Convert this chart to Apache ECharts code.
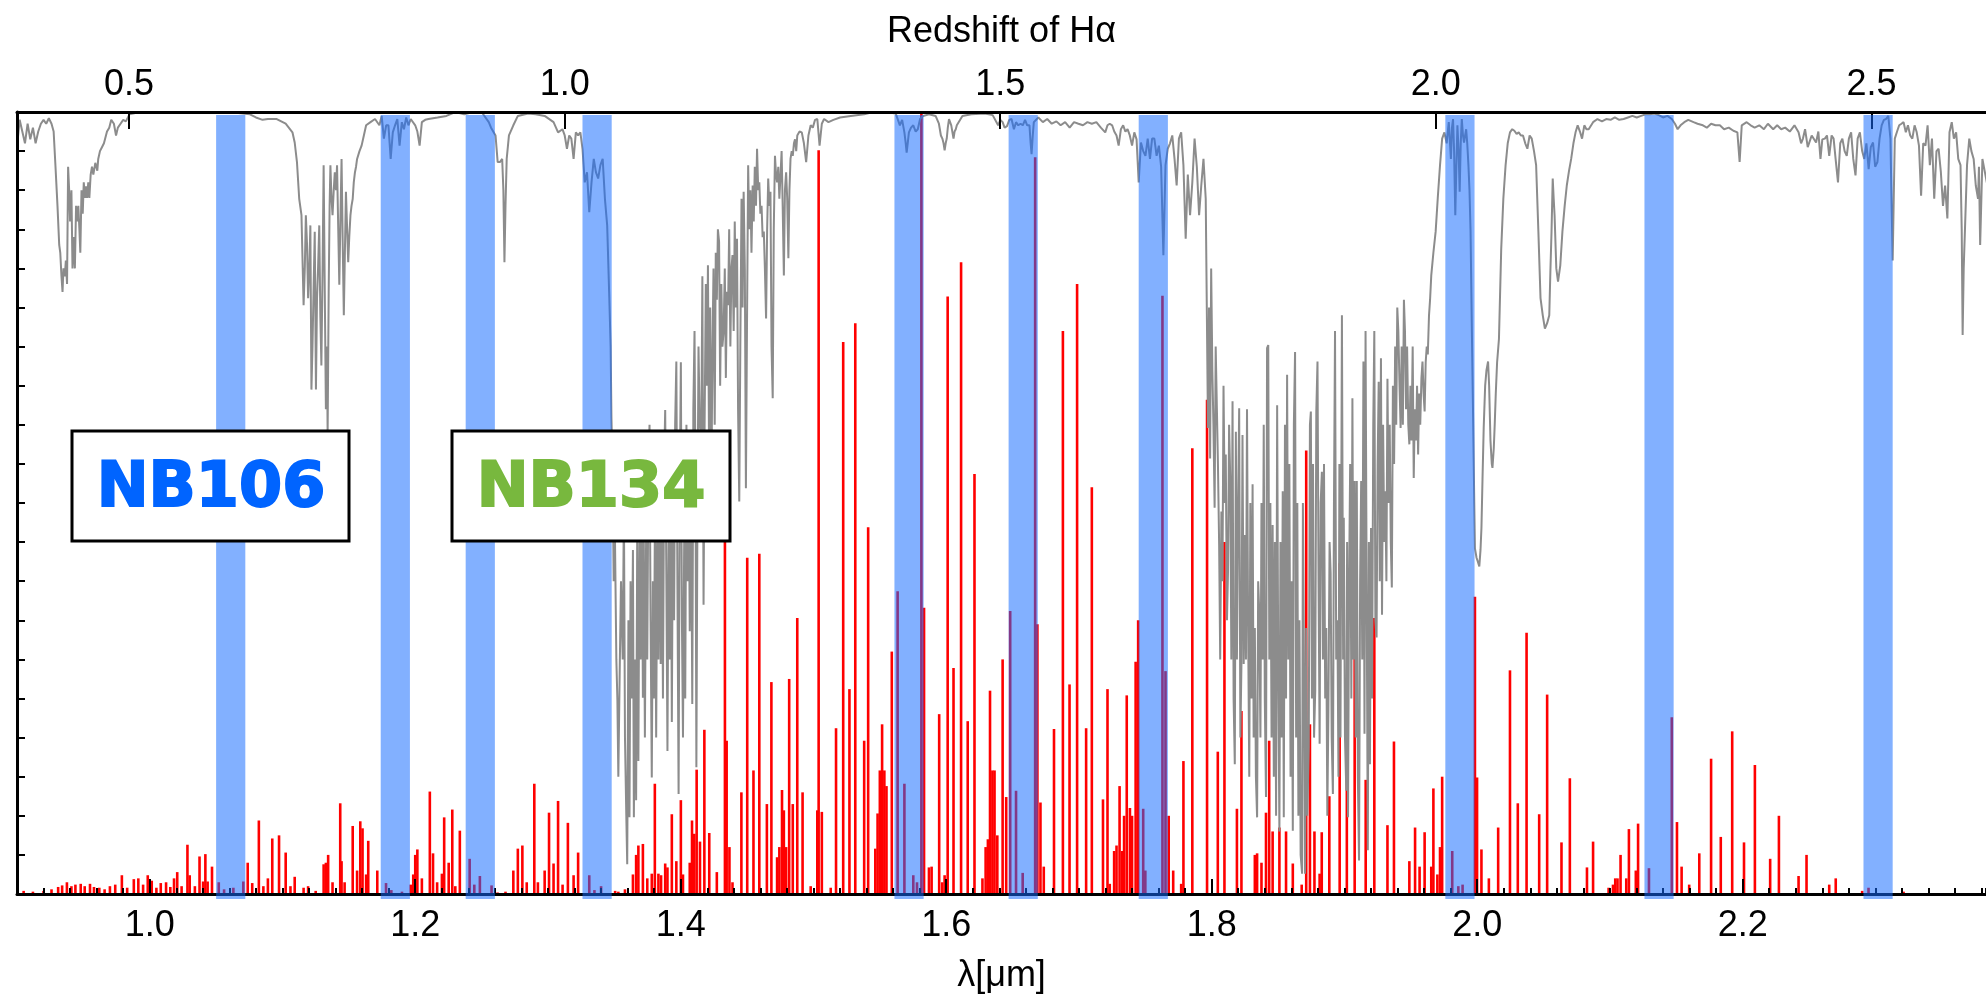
<!DOCTYPE html>
<html>
<head>
<meta charset="utf-8">
<script src="https://cdn.jsdelivr.net/npm/echarts@6/dist/echarts.min.js"></script>
<style>
html,body{margin:0;padding:0;background:#fff;}
#chart{width:1986px;height:999px;}
</style>
</head>
<body>
<div id="chart"></div>
<script>
// ---------------- data ----------------
const waveRange = [0.9, 2.3833];           // visible wavelength range, micron
const H_ALPHA = 0.65628;                   // rest wavelength of H-alpha, micron
const waveTickLabels = [1.0, 1.2, 1.4, 1.6, 1.8, 2.0, 2.2];
const redshiftTickLabels = [0.5, 1.0, 1.5, 2.0, 2.5];
const filterCenters = [1.061, 1.185, 1.249, 1.337, 1.572, 1.658, 1.756, 1.987, 2.137, 2.302];
const filterWidth = 0.022;
const filterLabels = ['NB106', 'NB134'];

// atmospheric transmission (grey curve): [wavelength, transmission]
const atmTransmission = [
[0.900,0.955],[0.902,0.990],[0.904,0.975],[0.906,0.960],[0.908,0.985],[0.910,0.965],[0.912,0.980],[0.914,0.960],[0.916,0.975],[0.918,0.985],[0.920,0.990],[0.922,0.985],[0.924,0.992],[0.926,0.985],[0.9276,0.975],
[0.929,0.93],[0.9305,0.88],[0.9318,0.83],[0.9326,0.82],[0.9335,0.79],[0.9343,0.77],[0.9350,0.80],[0.9360,0.79],[0.9368,0.81],[0.9377,0.78],[0.9385,0.93],[0.9393,0.90],[0.9400,0.86],[0.9410,0.90],[0.9418,0.80],[0.9427,0.84],[0.9436,0.80],[0.9445,0.88],[0.9453,0.86],[0.9462,0.88],[0.9470,0.85],[0.9477,0.82],[0.9486,0.90],[0.9495,0.87],[0.9503,0.91],[0.9512,0.89],[0.9520,0.905],[0.9528,0.89],[0.9537,0.91],[0.9545,0.89],[0.9555,0.92],[0.9565,0.93],[0.9575,0.92],[0.9590,0.935],[0.9605,0.925],[0.9612,0.94],[0.9625,0.95],[0.9640,0.955],[0.9655,0.96],[0.9678,0.975],[0.9695,0.98],[0.9710,0.99],[0.9730,0.985],[0.9746,0.97],[0.9760,0.98],[0.9780,0.985],[0.9800,0.99],[0.9820,0.988],[0.9847,0.997],
[0.990,0.999],[1.000,1.0],[1.010,1.0],[1.020,1.0],[1.030,1.0],[1.040,1.0],[1.050,1.0],[1.060,1.0],[1.070,0.998],[1.0755,0.997],[1.080,0.993],[1.085,0.990],[1.0890,0.991],[1.0957,0.991],[1.1024,0.985],[1.1075,0.974],
[1.1092,0.961],[1.1109,0.936],[1.1126,0.889],[1.1143,0.868],[1.1159,0.753],[1.1168,0.80],[1.1176,0.868],[1.1185,0.83],[1.1193,0.762],[1.1202,0.80],[1.1210,0.855],[1.1218,0.645],[1.1226,0.70],[1.1235,0.78],[1.1243,0.847],[1.1252,0.645],[1.1260,0.762],[1.1268,0.80],[1.1277,0.855],[1.1285,0.74],[1.1293,0.676],[1.1302,0.80],[1.1310,0.932],[1.1318,0.78],[1.1327,0.62],[1.1335,0.70],[1.1340,0.59],[1.1348,0.77],[1.1355,0.88],[1.1361,0.932],[1.1369,0.89],[1.1377,0.868],[1.1386,0.90],[1.1394,0.923],[1.1403,0.90],[1.1411,0.932],[1.1420,0.85],[1.1428,0.779],[1.1436,0.86],[1.1445,0.94],[1.1453,0.84],[1.1462,0.74],[1.1470,0.82],[1.1478,0.898],[1.1487,0.85],[1.1495,0.808],[1.1503,0.84],[1.1512,0.868],[1.1520,0.88],[1.1529,0.889],[1.1537,0.91],[1.1546,0.923],[1.1554,0.93],[1.1562,0.94],[1.1580,0.95],[1.1596,0.957],[1.1613,0.97],[1.1630,0.983],[1.1663,0.987],[1.1697,0.991],[1.1730,0.983],[1.1747,0.995],
[1.1764,0.966],[1.1781,0.983],[1.1798,0.983],[1.1815,0.94],[1.1831,0.974],[1.1848,0.983],[1.1865,0.991],[1.1882,0.957],[1.1899,0.987],[1.1915,0.978],[1.1932,0.993],[1.1949,0.983],[1.1966,0.991],[1.2000,0.983],[1.2016,0.975],[1.2033,0.957],[1.2050,0.987],[1.2075,0.99],[1.2100,0.991],[1.2168,0.993],[1.2235,0.995],[1.2302,1.0],[1.2369,0.997],[1.2437,1.0],[1.2500,1.0],[1.2554,0.987],[1.2571,0.98],[1.2605,0.97],[1.2621,0.936],[1.2638,0.936],[1.2655,0.94],[1.2664,0.90],[1.2672,0.808],[1.2680,0.88],[1.2689,0.94],[1.2706,0.97],[1.2739,0.983],[1.2773,0.995],[1.2850,0.998],[1.2907,0.997],[1.2975,0.995],[1.3042,0.987],[1.3076,0.974],[1.3109,0.978],[1.3126,0.97],[1.3143,0.953],[1.3160,0.97],[1.3176,0.966],[1.3193,0.94],[1.3210,0.974],[1.3227,0.97],[1.3244,0.974],[1.3260,0.953],[1.3277,0.91],[1.3294,0.923],[1.3311,0.872],[1.3328,0.91],[1.3345,0.94],[1.3361,0.923],[1.3378,0.915],[1.3395,0.932],[1.3412,0.94],[1.3429,0.889],[1.3446,0.855],[1.3462,0.762],
[1.3472,0.70],[1.3478,0.61],[1.3486,0.55],[1.3495,0.40],[1.3505,0.45],[1.3515,0.30],[1.3523,0.247],[1.3530,0.15],[1.3540,0.281],[1.3550,0.40],[1.3563,0.30],[1.3572,0.50],[1.3580,0.20],[1.3590,0.10],[1.3597,0.038],[1.3606,0.35],[1.3614,0.098],[1.3622,0.40],[1.3630,0.25],[1.3640,0.44],[1.3647,0.098],[1.3655,0.30],[1.3664,0.12],[1.3672,0.45],[1.3681,0.17],[1.3690,0.50],[1.3698,0.30],[1.3706,0.55],[1.3715,0.251],[1.3722,0.45],[1.3730,0.20],[1.3740,0.48],[1.3748,0.30],[1.3757,0.55],[1.3765,0.60],[1.3773,0.35],[1.3782,0.149],[1.3790,0.40],[1.3798,0.25],[1.3806,0.50],[1.3815,0.20],[1.3823,0.45],[1.3832,0.30],[1.3840,0.55],[1.3849,0.294],[1.3858,0.50],[1.3866,0.25],[1.3875,0.55],[1.3883,0.619],[1.3892,0.40],[1.3900,0.183],[1.3908,0.45],[1.3917,0.30],[1.3925,0.55],[1.3933,0.22],[1.3941,0.50],[1.3950,0.35],[1.3958,0.60],[1.3967,0.681],[1.3975,0.40],[1.3984,0.128],[1.3992,0.50],[1.4001,0.68],[1.4009,0.35],[1.4017,0.20],[1.4026,0.45],[1.4034,0.25],[1.4043,0.60],[1.4051,0.40],[1.4060,0.55],[1.4068,0.336],[1.4077,0.55],[1.4087,0.243],[1.4095,0.62],[1.4104,0.72],[1.4112,0.50],[1.4118,0.162],[1.4125,0.45],[1.4134,0.70],[1.4143,0.60],[1.4155,0.583],[1.4163,0.79],[1.4172,0.37],[1.4180,0.60],[1.4189,0.78],[1.4197,0.65],[1.4205,0.804],[1.4214,0.55],[1.4222,0.75],[1.4230,0.50],[1.4239,0.698],[1.4247,0.80],[1.4256,0.60],[1.4264,0.82],[1.4272,0.76],[1.4280,0.85],[1.4289,0.834],[1.4297,0.65],[1.4306,0.78],[1.4314,0.70],[1.4323,0.719],[1.4332,0.80],[1.4340,0.66],[1.4348,0.77],[1.4357,0.753],[1.4365,0.85],[1.4374,0.70],[1.4382,0.80],[1.4390,0.817],[1.4399,0.72],[1.4407,0.86],[1.4416,0.75],[1.4424,0.838],[1.4432,0.62],[1.4441,0.502],[1.4449,0.70],[1.4458,0.889],[1.4466,0.75],[1.4474,0.898],[1.4483,0.80],[1.4491,0.519],[1.4499,0.72],[1.4508,0.932],[1.4516,0.85],[1.4525,0.90],[1.4533,0.82],[1.4542,0.906],[1.4550,0.86],[1.4558,0.93],[1.4567,0.88],[1.4575,0.953],[1.4584,0.90],[1.4592,0.91],[1.4600,0.87],[1.4609,0.88],[1.4617,0.84],[1.4626,0.847],[1.4634,0.80],[1.4643,0.736],[1.4651,0.85],[1.4659,0.915],[1.4668,0.88],[1.4676,0.898],[1.4684,0.70],[1.4693,0.634],[1.4701,0.85],[1.4710,0.944],[1.4718,0.92],[1.4726,0.91],[1.4735,0.93],[1.4743,0.889],[1.4752,0.92],[1.4760,0.95],[1.4768,0.88],[1.4777,0.791],[1.4785,0.90],[1.4794,0.923],[1.4802,0.89],[1.4811,0.813],[1.4819,0.90],[1.4827,0.94],[1.4836,0.95],[1.4844,0.944],[1.4853,0.96],[1.4861,0.965],[1.4870,0.95],[1.4878,0.97],[1.4895,0.975],[1.4912,0.974],[1.4928,0.96],[1.4945,0.936],[1.4962,0.97],[1.4979,0.983],[1.4995,0.98],[1.5012,0.99],[1.5029,0.991],[1.5046,0.957],[1.5063,0.985],[1.5080,0.991],[1.5113,0.987],[1.5150,0.99],[1.5200,0.993],[1.5281,0.995],[1.5382,0.997],[1.545,1.0],[1.555,1.0],[1.562,0.998],
[1.5651,0.983],[1.5668,0.99],[1.5685,0.974],[1.5695,0.96],[1.5702,0.948],[1.5710,0.96],[1.5719,0.974],[1.5735,0.98],[1.5752,0.983],[1.5770,0.975],[1.5786,0.978],[1.5803,0.991],[1.5826,0.995],[1.5870,0.997],[1.5920,0.995],[1.5945,0.985],[1.5960,0.97],[1.5971,0.966],[1.5980,0.96],[1.5988,0.951],[1.5996,0.96],[1.6004,0.966],[1.6012,0.98],[1.6021,0.991],[1.6038,0.983],[1.6046,0.975],[1.6055,0.966],[1.6063,0.975],[1.6072,0.978],[1.6080,0.983],[1.6089,0.983],[1.6105,0.99],[1.6122,0.995],[1.6190,0.997],[1.6290,0.998],[1.6350,0.996],[1.6391,0.983],[1.6408,0.99],[1.6425,0.987],[1.6440,0.98],[1.6458,0.982],[1.6475,0.99],[1.6492,0.991],[1.6510,0.978],[1.6526,0.987],[1.6543,0.983],[1.6560,0.985],[1.6577,0.983],[1.6594,0.99],[1.6610,0.983],[1.6627,0.983],[1.6636,0.96],[1.6643,0.946],[1.6652,0.97],[1.6660,0.987],[1.6694,0.993],[1.6728,0.987],[1.6761,0.991],[1.6795,0.985],[1.6830,0.988],[1.6862,0.983],[1.6896,0.987],[1.6930,0.98],[1.6963,0.987],[1.6996,0.985],[1.7030,0.983],[1.7064,0.987],[1.7097,0.985],[1.7131,0.987],[1.7165,0.98],[1.7198,0.974],[1.7215,0.983],[1.7232,0.985],[1.7250,0.983],[1.7266,0.975],[1.7283,0.97],[1.7299,0.957],[1.7316,0.978],[1.7333,0.983],[1.7350,0.975],[1.7366,0.978],[1.7383,0.97],[1.7400,0.957],[1.7417,0.974],[1.7434,0.965],[1.7450,0.91],[1.7467,0.961],[1.7484,0.95],[1.7501,0.944],[1.7518,0.966],[1.7535,0.94],[1.7551,0.966],[1.7568,0.966],[1.7585,0.944],[1.7602,0.957],[1.7619,0.93],[1.7636,0.817],[1.7652,0.932],[1.7669,0.953],[1.7686,0.96],[1.7703,0.97],[1.7720,0.94],[1.7736,0.906],[1.7753,0.966],[1.7770,0.974],[1.7787,0.932],[1.7804,0.838],
[1.7820,0.92],[1.7837,0.868],[1.7854,0.91],[1.7871,0.966],[1.7888,0.93],[1.7905,0.868],[1.7921,0.905],[1.7938,0.94],[1.7955,0.889],[1.7972,0.596],[1.7980,0.75],[1.7988,0.557],[1.7996,0.80],[1.8005,0.668],[1.8013,0.60],[1.8022,0.494],[1.8030,0.70],[1.8039,0.621],[1.8047,0.55],[1.8056,0.447],[1.8064,0.30],[1.8073,0.489],[1.8081,0.40],[1.8089,0.65],[1.8098,0.50],[1.8106,0.562],[1.8115,0.35],[1.8123,0.413],[1.8131,0.60],[1.8140,0.528],[1.8148,0.30],[1.8157,0.63],[1.8165,0.25],[1.8174,0.166],[1.8182,0.591],[1.8190,0.30],[1.8199,0.50],[1.8207,0.621],[1.8216,0.20],[1.8224,0.294],[1.8232,0.587],[1.8241,0.294],[1.8249,0.459],[1.8258,0.30],[1.8266,0.62],[1.8274,0.35],[1.8283,0.15],[1.8291,0.50],[1.8300,0.25],[1.8308,0.524],[1.8316,0.20],[1.8325,0.34],[1.8333,0.15],[1.8342,0.098],[1.8350,0.40],[1.8358,0.362],[1.8367,0.20],[1.8375,0.50],[1.8384,0.30],[1.8392,0.60],[1.8400,0.25],[1.8409,0.124],[1.8417,0.698],[1.8426,0.702],[1.8434,0.30],[1.8442,0.50],[1.8451,0.20],[1.8459,0.472],[1.8468,0.15],[1.8476,0.45],[1.8485,0.10],[1.8493,0.625],[1.8501,0.30],[1.8510,0.08],[1.8518,0.45],[1.8527,0.20],[1.8535,0.515],[1.8543,0.098],[1.8552,0.60],[1.8560,0.25],[1.8568,0.664],[1.8577,0.30],[1.8585,0.55],[1.8594,0.15],[1.8602,0.40],[1.8611,0.081],[1.8619,0.60],[1.8628,0.693],[1.8636,0.20],[1.8645,0.50],[1.8653,0.10],[1.8661,0.35],[1.8670,0.05],[1.8681,0.026],[1.8687,0.50],[1.8695,0.30],[1.8703,0.026],[1.8712,0.34],[1.8720,0.10],[1.8731,0.188],[1.8740,0.60],[1.8747,0.617],[1.8755,0.25],[1.8763,0.55],[1.8771,0.20],[1.8780,0.26],[1.8788,0.617],[1.8797,0.681],[1.8805,0.40],[1.8813,0.192],[1.8821,0.50],[1.8830,0.54],[1.8838,0.30],[1.8846,0.55],[1.8855,0.25],[1.8863,0.34],[1.8871,0.10],[1.8879,0.234],[1.8888,0.45],[1.8896,0.41],[1.8904,0.20],[1.8913,0.128],[1.8921,0.50],[1.8929,0.72],[1.8938,0.30],[1.8947,0.35],[1.8955,0.15],[1.8962,0.55],[1.8970,0.20],[1.8981,0.74],[1.8990,0.30],[1.8995,0.481],[1.9004,0.20],[1.9014,0.132],[1.9020,0.45],[1.9027,0.098],[1.9035,0.40],[1.9043,0.55],[1.9052,0.25],[1.9060,0.634],[1.9068,0.30],[1.9077,0.528],[1.9085,0.20],[1.9093,0.528],[1.9101,0.15],[1.9110,0.043],[1.9118,0.40],[1.9126,0.528],[1.9134,0.30],[1.9143,0.681],[1.9151,0.205],[1.9159,0.72],[1.9167,0.40],[1.9176,0.056],[1.9184,0.45],[1.9192,0.166],[1.9200,0.468],[1.9208,0.25],[1.9217,0.60],[1.9225,0.72],[1.9233,0.35],[1.9242,0.328],[1.9250,0.55],[1.9258,0.655],[1.9266,0.40],[1.9275,0.685],[1.9283,0.357],[1.9291,0.60],[1.9300,0.45],[1.9308,0.515],[1.9316,0.40],[1.9324,0.659],[1.9332,0.50],[1.9341,0.60],[1.9349,0.45],[1.9357,0.392],[1.9365,0.65],[1.9374,0.55],[1.9382,0.70],[1.9390,0.60],[1.9398,0.75],[1.9406,0.72],[1.9415,0.65],[1.9423,0.596],[1.9431,0.70],[1.9440,0.60],[1.9448,0.76],[1.9456,0.72],[1.9464,0.62],[1.9472,0.70],[1.9481,0.60],[1.9489,0.575],[1.9497,0.65],[1.9505,0.58],[1.9514,0.70],[1.9522,0.532],[1.9530,0.62],[1.9539,0.58],[1.9547,0.65],[1.9555,0.562],[1.9563,0.64],[1.9571,0.60],[1.9580,0.66],[1.9588,0.681],[1.9596,0.64],[1.9604,0.617],[1.9612,0.68],[1.9620,0.70],[1.9628,0.69],[1.9637,0.74],[1.9645,0.76],[1.9654,0.791],[1.9670,0.82],[1.9687,0.847],[1.9703,0.89],[1.9720,0.932],[1.9736,0.966],[1.9753,0.974],[1.9770,0.96],[1.9786,0.987],[1.9802,0.94],[1.9810,0.98],[1.9818,0.991],[1.9826,0.95],[1.9835,0.868],[1.9843,0.93],[1.9851,0.983],[1.9860,0.95],[1.9868,0.898],[1.9876,0.96],[1.9884,0.991],[1.9893,0.97],[1.9901,0.961],[1.9909,0.97],[1.9917,0.978],[1.9925,0.96],[1.9934,0.932],[1.9942,0.90],
[1.9950,0.847],[1.9960,0.719],[1.9970,0.60],[1.9978,0.50],[1.9983,0.442],[1.9995,0.43],[2.0005,0.425],[2.0016,0.419],[2.0025,0.44],[2.0032,0.468],[2.0040,0.53],[2.0049,0.596],[2.0060,0.65],[2.0070,0.67],[2.0082,0.681],[2.0090,0.65],[2.0100,0.58],[2.0110,0.55],[2.0115,0.545],[2.0125,0.57],[2.0132,0.60],[2.0140,0.64],[2.0150,0.68],[2.0164,0.71],[2.0181,0.825],[2.0197,0.889],[2.0214,0.932],[2.0230,0.96],[2.0247,0.974],[2.0264,0.978],[2.0280,0.976],[2.0297,0.972],[2.0313,0.974],[2.0329,0.97],[2.0345,0.97],[2.0362,0.96],[2.0378,0.953],[2.0395,0.97],[2.0411,0.966],[2.0428,0.95],[2.0444,0.932],[2.0461,0.847],[2.0477,0.762],[2.0494,0.74],[2.0510,0.723],[2.0527,0.73],[2.0543,0.74],[2.0552,0.80],[2.0560,0.847],[2.0569,0.915],[2.0576,0.89],[2.0583,0.868],[2.0596,0.80],[2.0609,0.783],[2.0626,0.804],[2.0642,0.847],[2.0659,0.88],[2.0675,0.906],[2.0692,0.925],[2.0708,0.94],[2.0725,0.96],[2.0741,0.974],[2.0757,0.983],[2.0774,0.975],[2.0790,0.966],[2.0807,0.983],[2.0823,0.978],[2.0840,0.978],[2.0873,0.987],[2.0906,0.991],[2.0940,0.988],[2.0972,0.991],[2.1005,0.99],[2.1037,0.993],[2.1070,0.99],[2.1103,0.991],[2.1136,0.993],[2.1169,0.995],[2.1202,0.993],[2.1235,0.995],[2.1268,0.997],[2.1301,0.997],[2.1335,0.998],[2.1368,0.996],[2.1400,0.993],[2.1433,0.995],[2.1466,0.991],[2.1490,0.985],[2.1510,0.978],[2.1532,0.983],[2.1560,0.987],[2.1590,0.99],[2.1630,0.987],[2.1660,0.985],[2.1700,0.983],[2.1730,0.98],[2.1762,0.985],[2.1795,0.983],[2.1828,0.983],[2.1860,0.978],[2.1895,0.98],[2.1930,0.976],[2.1960,0.974],[2.1977,0.936],[2.1993,0.983],[2.2030,0.987],[2.2060,0.983],[2.2090,0.98],[2.2125,0.983],[2.2160,0.978],[2.2190,0.985],[2.2230,0.978],[2.2260,0.983],[2.2290,0.978],[2.2320,0.98],[2.2355,0.975],[2.2390,0.983],[2.2421,0.974],[2.2440,0.96],[2.2454,0.966],[2.2470,0.978],[2.2490,0.955],[2.2520,0.97],[2.2553,0.961],[2.2570,0.975],[2.2586,0.94],[2.2600,0.965],[2.2619,0.966],[2.2635,0.97],[2.2652,0.944],[2.2670,0.97],[2.2685,0.966],[2.2700,0.94],[2.2718,0.91],[2.2735,0.96],[2.2751,0.966],[2.2768,0.95],[2.2784,0.944],[2.2800,0.966],[2.2817,0.974],[2.2833,0.94],[2.2850,0.919],[2.2866,0.966],[2.2883,0.974],[2.2900,0.95],[2.2916,0.94],[2.2932,0.96],[2.2949,0.927],[2.2965,0.955],[2.2982,0.961],[2.2998,0.93],[2.3015,0.936],[2.3031,0.966],[2.3047,0.983],[2.3064,0.99],[2.3080,0.991],[2.3097,0.995],[2.3113,0.966],[2.3122,0.88],[2.3130,0.81],[2.3138,0.89],[2.3146,0.966],[2.3163,0.975],[2.3179,0.983],[2.3196,0.985],[2.3212,0.987],[2.3229,0.974],[2.3245,0.983],[2.3262,0.97],[2.3278,0.966],[2.3295,0.983],[2.3311,0.974],[2.3328,0.957],[2.3344,0.893],[2.3360,0.96],[2.3377,0.957],[2.3393,0.983],[2.3410,0.932],[2.3426,0.966],[2.3443,0.889],[2.3460,0.95],[2.3476,0.953],[2.3493,0.923],[2.3509,0.88],[2.3525,0.906],[2.3542,0.864],[2.3558,0.974],[2.3575,0.987],[2.3591,0.966],[2.3608,0.974],[2.3624,0.94],[2.3641,0.932],[2.3650,0.85],[2.3657,0.715],[2.3665,0.80],[2.3674,0.847],[2.3690,0.932],[2.3707,0.966],[2.3723,0.95],[2.3740,0.94],[2.3756,0.906],[2.3773,0.889],[2.3780,0.93],[2.3789,0.83],[2.3806,0.94],[2.3850,0.90],[2.3900,0.92]
];

// OH sky emission lines (red): [wavelength, relative intensity]
const ohLines = [
[0.905,0.004],[0.912,0.003],[0.920,0.004],[0.926,0.006],[0.931,0.009],[0.934,0.011],[0.9376,0.015],[0.941,0.010],[0.944,0.012],[0.948,0.013],[0.951,0.010],[0.955,0.013],[0.958,0.009],[0.962,0.008],[0.966,0.006],[0.970,0.010],[0.974,0.012],[0.979,0.024],[0.983,0.008],[0.988,0.019],[0.9914,0.020],[0.995,0.012],[0.9985,0.024],[1.0015,0.017],[1.005,0.008],[1.0083,0.014],[1.0123,0.015],[1.0155,0.009],[1.0183,0.020],[1.0207,0.028],[1.024,0.010],[1.0284,0.063],[1.0301,0.024],[1.034,0.010],[1.0375,0.048],[1.0402,0.016],[1.0419,0.051],[1.0436,0.016],[1.0469,0.035],
[1.052,0.015],[1.056,0.006],[1.063,0.008],[1.0705,0.016],
[1.0738,0.040],[1.0772,0.014],[1.0822,0.094],[1.0856,0.010],[1.0890,0.020],[1.0923,0.071],[1.0974,0.075],[1.1024,0.053],[1.1060,0.010],[1.1092,0.022],[1.1159,0.008],[1.1193,0.010],[1.1250,0.004],[1.1310,0.038],[1.1327,0.040],[1.1344,0.050],[1.1377,0.015],[1.1435,0.116],[1.1445,0.042],[1.1468,0.015],[1.1529,0.087],[1.1562,0.030],[1.1586,0.093],[1.1603,0.084],[1.1630,0.025],[1.1646,0.068],[1.1714,0.030],
[1.1780,0.014],[1.1820,0.005],[1.1900,0.003],
[1.1966,0.012],[1.1985,0.025],[1.2000,0.050],[1.2016,0.057],[1.2050,0.020],[1.2110,0.131],[1.2134,0.052],[1.2165,0.015],[1.2201,0.026],[1.2218,0.098],[1.2252,0.040],[1.2279,0.108],[1.2302,0.010],[1.2336,0.081],
[1.2410,0.045],[1.2445,0.012],[1.2487,0.023],[1.2575,0.011],
[1.2620,0.002],[1.2680,0.003],[1.2739,0.030],[1.2773,0.058],[1.2807,0.062],[1.2840,0.015],[1.2897,0.141],[1.2924,0.015],[1.2975,0.030],[1.3008,0.104],[1.3042,0.039],[1.3076,0.119],[1.3110,0.012],[1.3150,0.091],[1.3193,0.024],[1.3227,0.053],
[1.3311,0.024],[1.3350,0.005],[1.3400,0.010],
[1.3506,0.004],[1.3530,0.003],[1.3580,0.006],[1.3640,0.025],[1.3664,0.050],[1.3681,0.062],[1.3715,0.064],[1.3748,0.020],[1.3782,0.026],[1.3805,0.141],[1.3832,0.026],[1.3852,0.024],[1.3883,0.039],[1.3900,0.034],[1.3933,0.102],[1.3967,0.042],[1.4001,0.120],[1.4017,0.025],[1.4068,0.040],[1.4085,0.094],[1.4102,0.077],[1.4120,0.159],[1.4145,0.067],[1.4178,0.210],[1.4215,0.078],[1.4272,0.028],[1.4333,0.455],[1.4346,0.196],[1.4367,0.060],[1.4390,0.015],[1.4457,0.130],[1.4501,0.430],[1.4548,0.158],[1.4592,0.435],[1.4649,0.115],[1.4683,0.271],[1.4726,0.047],[1.4743,0.060],[1.4763,0.133],[1.4777,0.107],[1.4794,0.060],[1.4817,0.275],[1.4844,0.115],[1.4878,0.353],[1.4918,0.130],[1.4979,0.010],[1.5029,0.107],[1.5039,0.951],[1.5063,0.105],[1.5130,0.008],[1.5170,0.212],[1.5224,0.706],[1.5271,0.262],[1.5315,0.730],[1.5382,0.196],[1.5412,0.469],[1.5466,0.058],[1.5483,0.103],[1.5500,0.158],[1.5517,0.217],[1.5534,0.158],[1.5550,0.138],[1.5590,0.310],[1.5634,0.387],[1.5685,0.141],[1.5752,0.024],[1.5780,0.015],[1.5813,1.05],[1.5833,0.366],[1.5870,0.034],[1.5890,0.035],[1.5947,0.230],[1.5970,0.015],[1.5988,0.024],[1.6011,0.764],[1.6055,0.289],[1.6112,0.808],[1.6162,0.221],[1.6213,0.537],[1.6273,0.020],[1.6297,0.060],[1.6314,0.070],[1.6330,0.260],[1.6348,0.158],[1.6364,0.158],[1.6385,0.075],[1.6425,0.300],[1.6452,0.124],[1.6482,0.362],[1.6526,0.132],[1.6576,0.027],[1.6670,0.942],[1.6687,0.345],[1.6710,0.117],[1.6735,0.035],[1.6812,0.211],[1.6879,0.720],[1.6929,0.268],[1.6986,0.780],[1.7054,0.212],[1.7097,0.520],[1.7181,0.121],[1.7215,0.262],[1.7232,0.013],[1.7265,0.055],[1.7283,0.062],[1.7306,0.138],[1.7326,0.055],[1.7340,0.100],[1.7360,0.254],[1.7384,0.110],[1.7400,0.100],[1.7427,0.297],[1.7446,0.350],[1.7484,0.109],[1.7500,0.030],[1.7629,0.765],[1.7652,0.285],[1.7676,0.100],[1.7710,0.030],[1.7770,0.013],[1.7787,0.170],[1.7854,0.570],[1.7965,0.632],[1.8046,0.182],[1.8096,0.450],[1.8190,0.109],[1.8224,0.234],[1.8325,0.050],[1.8342,0.052],[1.8375,0.040],[1.8409,0.104],[1.8433,0.196],[1.8459,0.080],[1.8510,0.085],[1.8560,0.080],[1.8611,0.039],[1.8678,0.012],[1.8712,0.567],[1.8740,0.217],[1.8774,0.080],[1.8813,0.026],[1.8829,0.079],[1.8886,0.125],[1.8964,0.423],[1.9018,0.168],[1.9077,0.482],[1.9160,0.146],[1.9225,0.353],[1.9324,0.088],[1.9373,0.195],[1.9489,0.042],[1.9532,0.085],[1.9566,0.035],[1.9604,0.079],[1.9654,0.035],[1.9670,0.135],[1.9700,0.025],[1.9720,0.060],[1.9736,0.150],[1.9812,0.055],[1.9858,0.010],[1.9890,0.012],[1.9983,0.380],[1.9999,0.149],[2.0032,0.057],[2.0088,0.020],[2.0158,0.085],[2.0247,0.286],[2.0306,0.116],[2.0372,0.334],[2.0467,0.102],[2.0527,0.255],[2.0635,0.066],[2.0698,0.148],[2.0827,0.034],[2.0873,0.067],[2.0990,0.008],[2.1023,0.012],[2.1040,0.020],[2.1057,0.020],[2.1080,0.050],[2.1123,0.020],[2.1143,0.083],[2.1195,0.030],[2.1212,0.090],[2.1294,0.033],[2.1466,0.226],[2.1505,0.092],[2.1540,0.035],[2.1597,0.012],[2.1673,0.052],[2.1762,0.173],[2.1835,0.073],[2.1921,0.208],[2.2010,0.066],[2.2092,0.165],[2.2207,0.045],[2.2273,0.100],[2.2421,0.023],[2.2481,0.050],[2.2652,0.012],[2.2701,0.020],[2.2900,0.004],[2.2948,0.008],[2.3212,0.003]
];

// ---------------- chart ----------------
const FONT = '"Liberation Sans", Arial, Helvetica, sans-serif';
const filterBands = filterCenters.map(c => [c - filterWidth / 2, c + filterWidth / 2]);
const zRange = [waveRange[0] / H_ALPHA - 1, waveRange[1] / H_ALPHA - 1];

const chart = echarts.init(document.getElementById('chart'), null, {renderer: 'canvas'});

const option = {
  animation: false,
  backgroundColor: '#ffffff',
  textStyle: {fontFamily: FONT},
  grid: {left: 17, right: 0, top: 112, bottom: 102, containLabel: false},
  xAxis: [
    { // main wavelength axis (bottom) with minor ticks every 0.02
      type: 'value', position: 'bottom', min: waveRange[0], max: waveRange[1], interval: 0.02, z: 4,
      axisLine: {show: true, onZero: false, lineStyle: {color: '#000', width: 3}},
      axisTick: {show: true, inside: true, length: 6, lineStyle: {color: '#000', width: 2}},
      axisLabel: {show: true, customValues: waveTickLabels, formatter: v => v.toFixed(1),
                  fontSize: 36, color: '#000', margin: 14, fontFamily: FONT},
      splitLine: {show: false},
      name: 'λ[μm]', nameLocation: 'middle', nameGap: 64,
      nameTextStyle: {fontSize: 36, color: '#000', fontFamily: FONT}
    },
    { // major ticks of wavelength axis
      type: 'value', position: 'bottom', min: waveRange[0], max: waveRange[1], z: 4,
      axisLine: {show: false},
      axisTick: {show: true, inside: true, length: 15, customValues: waveTickLabels, lineStyle: {color: '#000', width: 2}},
      axisLabel: {show: false},
      splitLine: {show: false}
    },
    { // redshift of H-alpha (top)
      type: 'value', position: 'top', min: zRange[0], max: zRange[1], z: 4,
      axisLine: {show: true, onZero: false, lineStyle: {color: '#000', width: 3}},
      axisTick: {show: true, inside: true, length: 17, customValues: redshiftTickLabels, lineStyle: {color: '#000', width: 2}},
      axisLabel: {show: true, customValues: redshiftTickLabels, formatter: v => v.toFixed(1),
                  fontSize: 36, color: '#000', margin: 9, fontFamily: FONT},
      splitLine: {show: false},
      name: 'Redshift of Hα', nameLocation: 'middle', nameGap: 62,
      nameTextStyle: {fontSize: 36, color: '#000', fontFamily: FONT}
    }
  ],
  yAxis: {
    type: 'value', min: 0, max: 1, interval: 0.05, z: 4,
    axisLine: {show: true, onZero: false, lineStyle: {color: '#000', width: 3}},
    axisTick: {show: true, inside: true, length: 8, lineStyle: {color: '#000', width: 2}},
    axisLabel: {show: false},
    splitLine: {show: false}
  },
  series: [
    {
      name: 'OH lines', type: 'custom', xAxisIndex: 0, yAxisIndex: 0, z: 2,
      data: ohLines,
      renderItem: function (params, api) {
        const x = api.value(0), h = api.value(1);
        const p0 = api.coord([x, 0]);
        const p1 = api.coord([x, h]);
        const cs = params.coordSys;
        if (p0[0] < cs.x || p0[0] > cs.x + cs.width) return null;
        const top = Math.max(p1[1], cs.y + 1);
        return {type: 'line', shape: {x1: p0[0], y1: p0[1], x2: p0[0], y2: top},
                style: {stroke: '#ff0000', lineWidth: 2.6}};
      }
    },
    {
      name: 'Transmission', type: 'line', xAxisIndex: 0, yAxisIndex: 0, z: 3,
      data: atmTransmission, showSymbol: false, symbol: 'none', clip: true,
      lineStyle: {color: '#8c8c8c', width: 2}
    },
    {
      name: 'Filters', type: 'custom', xAxisIndex: 0, yAxisIndex: 0, z: 6,
      data: filterBands,
      renderItem: function (params, api) {
        const a = api.coord([api.value(0), 1]);
        const b = api.coord([api.value(1), 0]);
        return {type: 'rect', shape: {x: a[0], y: a[1] + 3, width: b[0] - a[0], height: b[1] - a[1] + 2},
                style: {fill: 'rgba(19,106,255,0.53)'}};
      }
    }
  ],
  graphic: [
    {type: 'rect', z: 100, shape: {x: 72, y: 431, width: 277, height: 110},
     style: {fill: '#ffffff', stroke: '#000', lineWidth: 3}},
    {type: 'text', z: 101, style: {text: filterLabels[0], x: 211, y: 490, align: 'center', verticalAlign: 'middle',
     fontSize: 62, fontWeight: 'bold', fontFamily: '"DejaVu Sans", sans-serif', fill: '#0064ff',
     stroke: '#0064ff', lineWidth: 2}},
    {type: 'rect', z: 100, shape: {x: 452, y: 431, width: 278, height: 110},
     style: {fill: '#ffffff', stroke: '#000', lineWidth: 3}},
    {type: 'text', z: 101, style: {text: filterLabels[1], x: 591, y: 490, align: 'center', verticalAlign: 'middle',
     fontSize: 62, fontWeight: 'bold', fontFamily: '"DejaVu Sans", sans-serif', fill: '#78b83e',
     stroke: '#78b83e', lineWidth: 2}}
  ]
};
chart.setOption(option);
</script>
</body>
</html>
